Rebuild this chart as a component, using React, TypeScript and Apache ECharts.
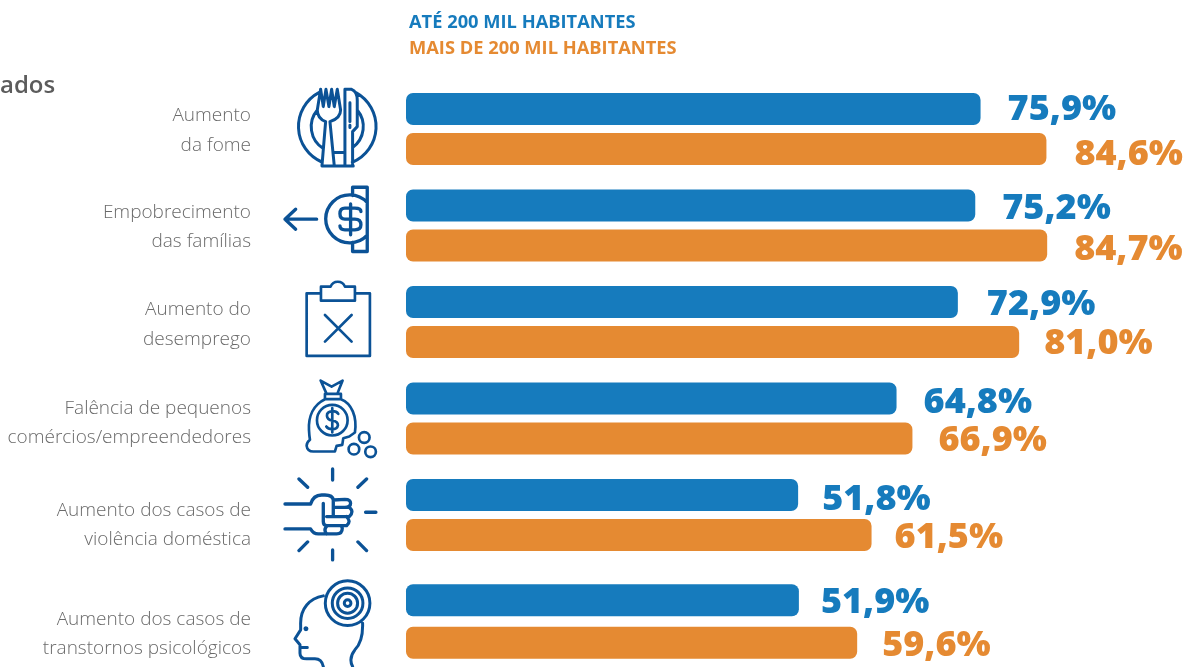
import React, { useEffect, useRef } from "react";
import * as echarts from "echarts";

const categoriesUpper = ["Aumento\nda fome", "Empobrecimento\ndas famílias", "Aumento do\ndesemprego", "Falência de pequenos\ncomércios/empreendedores", "Aumento dos casos de\nviolência doméstica"];
const categoriesLower = ["Aumento dos casos de\ntranstornos psicológicos"];
const smallCities = [75.9, 75.2, 72.9, 64.8, 51.8];
const largeCities = [84.6, 84.7, 81.0, 66.9, 61.5];
const smallCitiesLower = [51.9];
const largeCitiesLower = [59.6];
const smallName = "ATÉ 200 MIL HABITANTES";
const largeName = "MAIS DE 200 MIL HABITANTES";

const BLUE = "#167bbd";
const ORANGE = "#e58a32";
const ICON = "#0b5296";
const FONT = "'Open Sans', sans-serif";

const fmt = (p: any) => p.value.toFixed(1).replace(".", ",") + "%";

const iconShapes: [string, string, number, number, number][] = [
  ["iconFood", "M118,37 A116,116 0 0 0 127,247 M228,38 A116,116 0 0 1 217,247 M112,90 A78,78 0 0 0 130,206 M232,90 A78,78 0 0 1 218,203 M122,28 L112,90 Q112,115 137,125 L126,258 L220,258 L195,258 L195,28 L215,28 Q232,35 232,60 L232,140 L218,155 L218,258 M163,258 L150,125 Q182,115 182,90 L172,28 L163,80 L155,28 L147,80 L138,28 L130,80 L122,28 M163,218 L195,218 M210,68 L210,125 M210,136 L210,143", 280, 80, 9],
  ["iconPoor", "M110,418 L15,418 M47,388 L15,418 L47,448 M262,368 A72,72 0 1 0 262,466 M218,347 L218,322 L262,322 L262,515 L218,515 L218,488 M243,395 Q243,385 225,385 L195,385 Q180,385 180,402 Q180,418 195,418 L225,418 Q243,418 243,435 Q243,450 225,450 L195,450 Q180,450 180,438 M212,372 L212,465", 280, 80, 10],
  ["iconJob", "M123,70 L80,70 L80,258 L270,258 L270,70 L225,70 M123,50 L123,92 L225,92 L225,50 L195,50 A23,23 0 0 0 152,50 Z M135,135 L215,215 M215,135 L135,215", 280, 270, 8],
  ["iconBag", "M122,332 L155,350 L188,332 L172,372 L140,372 Z M135,372 L183,372 L183,388 L135,388 Z M135,388 C100,405 85,440 87,480 Q88,500 90,510 Q80,518 80,528 Q82,545 100,545 L165,545 L170,528 L187,525 L190,505 L208,500 L225,488 C232,440 215,400 183,388 M203,451 A46,46 0 1 1 111,451 A46,46 0 1 1 203,451 M175,432 Q170,424 157,424 Q140,426 141,438 Q142,450 157,452 Q174,455 174,466 Q172,478 157,478 Q144,478 139,470 M157,415 L157,488 M269,503 A16,16 0 1 1 237,503 A16,16 0 1 1 269,503 M238,538 A16,16 0 1 1 206,538 A16,16 0 1 1 238,538 M288,546 A16,16 0 1 1 256,546 A16,16 0 1 1 288,546", 280, 270, 8],
  ["iconFist", "M158,12 L158,45 M57,42 L83,67 M260,42 L234,67 M257,142 L288,142 M57,257 L83,231 M260,257 L234,231 M158,255 L158,285 M15,117 L92,117 Q100,90 125,90 L135,90 Q158,90 160,105 L195,103 Q212,103 212,115 Q212,127 195,127 L160,127 M195,127 L208,127 Q224,140 208,155 L140,155 M200,155 Q215,170 200,182 L140,182 Q130,182 130,170 L130,115 M15,192 L92,192 Q100,207 115,207 L170,207 Q187,207 187,190 L184,182 M140,184 Q130,195 140,207 M160,103 L160,155", 280, 465, 10],
  ["iconHead", "M270,415 A67,67 0 1 1 136,415 A67,67 0 1 1 270,415 M249,415 A46,46 0 1 1 157,415 A46,46 0 1 1 249,415 M233,415 A30,30 0 1 1 173,415 A30,30 0 1 1 233,415 M213,415 A10,10 0 1 1 193,415 A10,10 0 1 1 213,415 M130,393 C90,400 60,430 62,480 L62,495 L45,522 L60,540 L60,565 Q60,582 80,582 L105,582 Q125,582 130,605 M248,475 Q250,530 225,555 Q205,580 218,605 M62,548 L82,548 M81,492 A3,3 0 1 1 75,492 A3,3 0 1 1 81,492", 280, 465, 9],
];
iconShapes.forEach(([name, d]) => {
  echarts.graphic.registerShape(name, echarts.graphic.extendPath(d, {}) as any);
});

const upperLabelPad = [0, 0, 2, 6, 17];
const lowerLabelPad = [22];

const labelFormatter = (pads: number[]) => (value: string, index: number) => {
  const body = value.split("\n").map((l) => `{t|${l}}`).join("\n");
  return pads[index] ? `{p${pads[index]}| }\n${body}` : body;
};

export default function App() {
  const ref = useRef<HTMLDivElement>(null);
  useEffect(() => {
    document.body.style.margin = "0";
    const chart = echarts.init(ref.current!, undefined, { renderer: "svg" });
    const rowHeight = 96.5;
    const rich: any = { t: { color: "#6a6a6a", fontFamily: FONT, fontWeight: 300, fontSize: 19, lineHeight: 29.5, align: "right" } };
    [...upperLabelPad, ...lowerLabelPad].forEach((p) => { rich["p" + p] = { height: p, lineHeight: p, fontSize: 1, align: "right" }; });
    const axisLabel = (pads: number[]) => ({ margin: 155, align: "right" as const, formatter: labelFormatter(pads), rich });
    const barSeries = (name: string, data: number[], color: string, idx: number, gap: string, offs: number[][]) => ({
      type: "bar", name, xAxisIndex: idx, yAxisIndex: idx, barWidth: 32, barGap: gap,
      itemStyle: { color, borderRadius: 7 },
      data: data.map((value, i) => ({
        value,
        label: { show: true, position: "right", distance: 0, offset: offs[i], formatter: fmt, color, fontFamily: FONT, fontWeight: 800, fontSize: 36, lineHeight: 36 },
      })),
    });
    chart.setOption({
      animation: false,
      legend: {
        left: 399, top: 5, orient: "vertical", icon: "none", itemWidth: 0, itemGap: 6, selectedMode: false,
        data: [
          { name: smallName, textStyle: { color: BLUE } },
          { name: largeName, textStyle: { color: ORANGE } },
        ],
        textStyle: { fontFamily: FONT, fontWeight: 700, fontSize: 18.3, lineHeight: 20 },
      },
      grid: [
        { left: 406, width: 757, top: 80.75, height: rowHeight * 5 },
        { left: 406, width: 757, top: 576, height: rowHeight },
      ],
      xAxis: [0, 1].map((gridIndex) => ({ type: "value", gridIndex, min: 0, max: 100, show: false })),
      yAxis: [
        { type: "category", gridIndex: 0, inverse: true, data: categoriesUpper, axisLine: { show: false }, axisTick: { show: false }, axisLabel: axisLabel(upperLabelPad) },
        { type: "category", gridIndex: 1, inverse: true, data: categoriesLower, axisLine: { show: false }, axisTick: { show: false }, axisLabel: axisLabel(lowerLabelPad) },
      ],
      series: [
        barSeries(smallName, smallCities, BLUE, 0, "25%", [[27, -3], [27, 0], [29, -1], [27, 1], [24, 1]]),
        barSeries(largeName, largeCities, ORANGE, 0, "25%", [[28, 2], [27, 1], [25, -2], [26, -1], [23, -1]]),
        barSeries(smallName, smallCitiesLower, BLUE, 1, "33%", [[22, -1]]),
        barSeries(largeName, largeCitiesLower, ORANGE, 1, "33%", [[25, 0]]),
      ],
      graphic: [
        { type: "text", left: 0, top: 71, style: { text: "ados", fill: "#5c5c5c", font: "600 24px 'Open Sans', sans-serif" } },
        ...iconShapes.map(([name, , x, y, lw]) => ({
          type: name, x, y, scaleX: 1 / 3, scaleY: 1 / 3,
          style: { fill: "none", stroke: ICON, lineWidth: lw, lineCap: "round", lineJoin: "round" },
        })),
      ],
    });
    return () => chart.dispose();
  }, []);
  return <div ref={ref} style={{ position: "fixed", left: 0, top: 0, width: 1189, height: 667 }} />;
}
